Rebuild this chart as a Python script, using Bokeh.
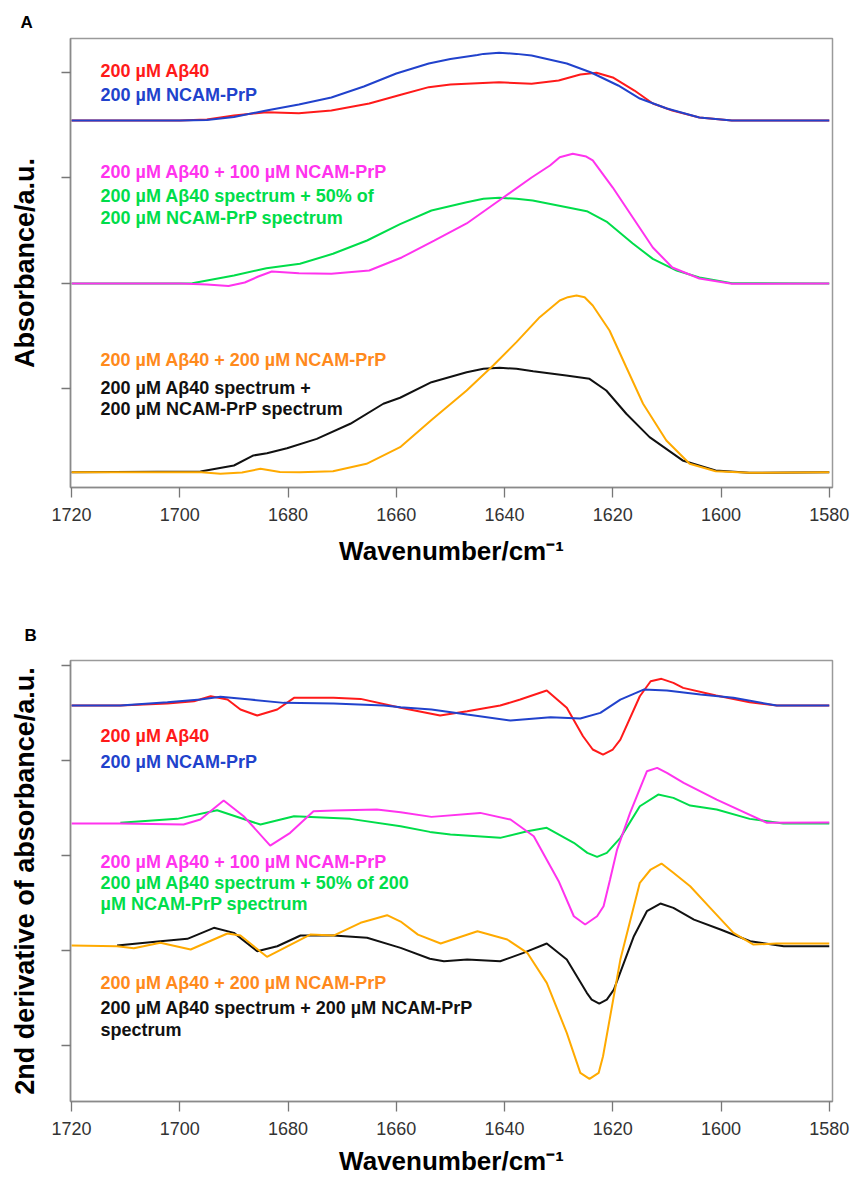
from bokeh.plotting import figure
from bokeh.models import Range1d, FixedTicker, Label
from bokeh.layouts import column
from bokeh.embed import file_html
from bokeh.resources import INLINE

# ---------------- data ----------------
X_TICKS = [1720, 1700, 1680, 1660, 1640, 1620, 1600, 1580]

# Panel A : absorbance (stacked, a.u.)
A_ab40_wn = [1720, 1700, 1695, 1690, 1684, 1678, 1672, 1665, 1659, 1654, 1650, 1641, 1635, 1630, 1626,
             1623, 1620, 1616, 1612.6, 1609, 1604, 1598, 1580]
A_ab40 = [2.544, 2.544, 2.554, 2.592, 2.623, 2.614, 2.639, 2.706, 2.791, 2.861, 2.886, 2.908, 2.893, 2.924,
          2.981, 2.997, 2.953, 2.829, 2.706, 2.639, 2.573, 2.544, 2.544]

A_ncam_wn = [1720, 1700, 1695, 1690, 1684, 1678, 1672, 1666, 1660, 1654, 1650, 1645, 1643.9, 1641, 1637.8,
             1635, 1628.5, 1624, 1619, 1615, 1610, 1604, 1598, 1580]
A_ncam = [2.544, 2.544, 2.549, 2.578, 2.639, 2.696, 2.763, 2.867, 2.991, 3.086, 3.128, 3.166, 3.177, 3.187,
          3.177, 3.161, 3.086, 3.000, 2.877, 2.753, 2.658, 2.573, 2.544, 2.544]

A_mix100_wn = [1720, 1700, 1695, 1691, 1688, 1685.5, 1683, 1678, 1672, 1665, 1659, 1653, 1647, 1641, 1635,
               1631.6, 1629.8, 1627.4, 1624.9, 1623.7, 1620, 1616.3, 1612.6, 1609, 1604, 1598, 1580]
A_mix100 = [0.997, 0.997, 0.987, 0.973, 1.006, 1.063, 1.111, 1.095, 1.089, 1.120, 1.244, 1.405, 1.567, 1.785,
            2.003, 2.117, 2.196, 2.228, 2.202, 2.165, 1.908, 1.623, 1.339, 1.149, 1.044, 0.994, 0.997]

A_sum50_wn = [1720, 1700, 1697.7, 1690, 1684, 1677.8, 1671.7, 1665.4, 1659.3, 1653.5, 1647, 1643.9, 1641,
              1637.8, 1634.8, 1628.5, 1624.8, 1621, 1616.3, 1612.6, 1608.2, 1604, 1598, 1580]
A_sum50 = [0.997, 0.997, 1.000, 1.073, 1.142, 1.184, 1.279, 1.405, 1.560, 1.690, 1.769, 1.801, 1.811, 1.801,
           1.785, 1.721, 1.683, 1.579, 1.377, 1.231, 1.120, 1.054, 1.000, 0.997]

A_sum100_wn = [1720, 1696.2, 1690, 1686.4, 1683.9, 1680.2, 1674.7, 1668.5, 1662.4, 1659.3, 1653.5, 1647,
               1643.9, 1640.9, 1637.8, 1634.7, 1628.6, 1624.3, 1621.2, 1617.5, 1613.2, 1607.1, 1601, 1594.8,
               1580]
A_sum100 = [-0.795, -0.788, -0.731, -0.636, -0.614, -0.567, -0.478, -0.335, -0.145, -0.088, 0.060, 0.155,
            0.187, 0.197, 0.187, 0.164, 0.123, 0.092, -0.019, -0.240, -0.462, -0.683, -0.778, -0.800, -0.795]

A_mix200_wn = [1720, 1696, 1692.5, 1688.5, 1685.1, 1681.5, 1677.8, 1671.7, 1665.5, 1659.3, 1653.5, 1647,
               1642.1, 1637.8, 1633.5, 1629.8, 1628.3, 1626.7, 1625.2, 1623.7, 1620.6, 1617.5, 1614.4, 1610.1,
               1605.8, 1601, 1594.8, 1580]
A_mix200 = [-0.795, -0.795, -0.810, -0.797, -0.762, -0.793, -0.795, -0.785, -0.715, -0.557, -0.300, -0.019,
            0.218, 0.440, 0.677, 0.835, 0.867, 0.883, 0.867, 0.788, 0.551, 0.202, -0.145, -0.494, -0.715,
            -0.785, -0.800, -0.795]

# Panel B : 2nd derivative (stacked, a.u.)
B_ab40_wn = [1720, 1711, 1702.3, 1697.4, 1694.3, 1691.2, 1688.8, 1685.7, 1682, 1678.9, 1671.6, 1666.6, 1659.2,
             1651.9, 1646.9, 1640.8, 1637.1, 1632.2, 1628.5, 1625.5, 1623.7, 1621.8, 1620, 1618.6, 1615, 1613,
             1611, 1608.8, 1607, 1600.9, 1594.7, 1589.7, 1580]
B_ab40 = [3.579, 3.579, 3.600, 3.624, 3.677, 3.642, 3.537, 3.474, 3.537, 3.660, 3.660, 3.649, 3.555, 3.474,
          3.518, 3.579, 3.642, 3.737, 3.555, 3.256, 3.116, 3.063, 3.116, 3.221, 3.677, 3.835, 3.860, 3.818,
          3.765, 3.684, 3.614, 3.579, 3.579]

B_ncam_wn = [1720, 1711, 1702.3, 1696.2, 1692.5, 1687, 1680.8, 1671.6, 1662.3, 1659.2, 1653.5, 1646.9, 1638.9,
             1631.5, 1626, 1622.3, 1618.6, 1614.3, 1610, 1603.8, 1597.7, 1589.7, 1580]
B_ncam = [3.579, 3.579, 3.614, 3.642, 3.671, 3.642, 3.607, 3.600, 3.579, 3.561, 3.537, 3.484, 3.421, 3.456,
          3.442, 3.502, 3.642, 3.747, 3.737, 3.695, 3.660, 3.579, 3.579]

B_mix100_wn = [1720, 1711, 1699.3, 1696.2, 1691.9, 1688.2, 1683.3, 1679.6, 1675.3, 1671.6, 1663.6, 1659.2,
               1653.5, 1644.5, 1638.9, 1634.6, 1630, 1627.2, 1625.1, 1622.9, 1621.7, 1620.5, 1619.2, 1616.8,
               1613.7, 1611.8, 1610, 1606.9, 1600.8, 1591.5, 1580]
B_mix100 = [2.337, 2.337, 2.326, 2.379, 2.579, 2.414, 2.105, 2.239, 2.466, 2.474, 2.484, 2.456, 2.407, 2.449,
            2.379, 2.203, 1.730, 1.361, 1.274, 1.361, 1.466, 1.747, 2.063, 2.449, 2.887, 2.923, 2.870, 2.765,
            2.589, 2.344, 2.347]

B_sum50_wn = [1711, 1700.5, 1693.1, 1685.1, 1678.9, 1668.5, 1659.2, 1653.8, 1650, 1640.8, 1635.8, 1632.2,
              1627.2, 1624.7, 1622.9, 1621.1, 1618.6, 1615, 1611.6, 1608.8, 1605.7, 1600.8, 1594.7, 1588.5, 1580]
B_sum50 = [2.344, 2.386, 2.477, 2.326, 2.414, 2.386, 2.308, 2.249, 2.221, 2.186, 2.256, 2.292, 2.134, 2.028,
           1.986, 2.028, 2.186, 2.519, 2.642, 2.607, 2.526, 2.484, 2.386, 2.337, 2.337]

B_sum100_wn = [1711.6, 1703.6, 1698.6, 1693.7, 1690, 1685.7, 1682, 1677.7, 1671.6, 1665.4, 1659.2, 1653.8,
               1651.2, 1646.9, 1640.8, 1636.5, 1632.2, 1628.5, 1624.8, 1623.9, 1622.5, 1621.1, 1619.8, 1616.1,
               1613.7, 1611.2, 1608.8, 1605, 1600.1, 1594.6, 1588.4, 1580]
B_sum100 = [1.053, 1.098, 1.123, 1.239, 1.186, 0.993, 1.045, 1.158, 1.158, 1.134, 1.028, 0.913, 0.887, 0.905,
            0.887, 0.976, 1.074, 0.905, 0.555, 0.484, 0.442, 0.484, 0.589, 1.151, 1.414, 1.495, 1.449, 1.326,
            1.221, 1.098, 1.045, 1.045]

B_mix200_wn = [1720, 1711.6, 1708.5, 1703.6, 1698, 1691.2, 1688.8, 1683.9, 1675.9, 1671.6, 1666.6, 1661.7,
               1659.2, 1656, 1651.8, 1645, 1639.5, 1635.8, 1632.2, 1628.5, 1626, 1624.3, 1622.6, 1621.8, 1618.6,
               1615, 1613, 1611, 1608.8, 1605.7, 1602, 1597.7, 1594, 1589.7, 1580]
B_mix200 = [1.053, 1.045, 1.024, 1.081, 1.011, 1.179, 1.158, 0.934, 1.168, 1.158, 1.292, 1.372, 1.305, 1.168,
            1.074, 1.203, 1.116, 0.976, 0.660, 0.134, -0.287, -0.351, -0.287, -0.113, 0.905, 1.713, 1.853,
            1.916, 1.818, 1.677, 1.449, 1.186, 1.063, 1.074, 1.074]

# ---------------- style ----------------
RED = "#FF1A1A"
BLUE = "#2142CC"
MAGENTA = "#FF33EE"
GREEN = "#00DD4A"
ORANGE_LINE = "#FFAA00"
ORANGE_TEXT = "#FF8A1C"
BLACK = "#111111"
FONT = "Liberation Sans"


def make_panel(height, top, bottom, y_range, y_ticks, y_title, letter, letter_offset, letter_standoff,
               xlabel_standoff):
    p = figure(width=852, height=height, output_backend="svg", toolbar_location=None,
               x_range=Range1d(1720.2, 1579.4), y_range=Range1d(*y_range),
               min_border_left=70, min_border_right=20, min_border_top=top, min_border_bottom=bottom,
               background_fill_color="white", border_fill_color="white", title=letter)
    p.title.align = "left"
    p.title.offset = letter_offset
    p.title.standoff = letter_standoff
    p.title.text_font = FONT
    p.title.text_font_style = "bold"
    p.title.text_font_size = "17px"
    p.title.text_color = "black"

    p.xgrid.visible = False
    p.ygrid.visible = False
    p.outline_line_color = "#9a9a9a"
    p.outline_line_width = 1.5

    xa = p.xaxis[0]
    xa.ticker = FixedTicker(ticks=X_TICKS)
    xa.axis_line_color = "#8a8a8a"
    xa.axis_line_width = 1.5
    xa.major_tick_line_color = "#777777"
    xa.major_tick_line_width = 1.3
    xa.major_tick_out = 10
    xa.major_tick_in = 0
    xa.minor_tick_line_color = None
    xa.major_label_text_font = FONT
    xa.major_label_text_font_size = "18px"
    xa.major_label_text_color = "#333333"
    xa.major_label_standoff = 10
    xa.axis_label = "Wavenumber/cm⁻¹"
    xa.axis_label_text_font = FONT
    xa.axis_label_text_font_style = "bold"
    xa.axis_label_text_font_size = "26px"
    xa.axis_label_text_color = "black"
    xa.axis_label_standoff = xlabel_standoff

    ya = p.yaxis[0]
    ya.ticker = FixedTicker(ticks=y_ticks)
    ya.major_label_overrides = {t: "" for t in y_ticks}
    ya.major_label_standoff = 0
    ya.axis_line_color = "#8a8a8a"
    ya.axis_line_width = 1.5
    ya.major_tick_line_color = "#777777"
    ya.major_tick_line_width = 1.3
    ya.major_tick_out = 9
    ya.major_tick_in = 0
    ya.minor_tick_line_color = None
    ya.axis_label = y_title
    ya.axis_label_text_font = FONT
    ya.axis_label_text_font_style = "bold"
    ya.axis_label_text_font_size = "27px"
    ya.axis_label_text_color = "black"
    ya.axis_label_standoff = 22
    return p


def add_text(p, x, y, txt, color):
    p.add_layout(Label(x=x, y=y, text=txt, text_font=FONT, text_font_style="bold",
                       text_font_size="18px", text_align="left", text_baseline="middle",
                       text_color=color))


# ---------------- panel A ----------------
pA = make_panel(590, 38, 103, (-0.940, 3.323), [0, 1, 2, 3], "Absorbance/a.u.", "A", -50, 13, 12)
pA.line(A_ab40_wn, A_ab40, line_color=RED, line_width=2)
pA.line(A_ncam_wn, A_ncam, line_color=BLUE, line_width=2)
pA.line(A_sum50_wn, A_sum50, line_color=GREEN, line_width=2)
pA.line(A_mix100_wn, A_mix100, line_color=MAGENTA, line_width=2)
pA.line(A_sum100_wn, A_sum100, line_color=BLACK, line_width=2)
pA.line(A_mix200_wn, A_mix200, line_color=ORANGE_LINE, line_width=2)

TX = 1714.65
add_text(pA, TX, 3.010, "200 µM Aβ40", RED)
add_text(pA, TX, 2.791, "200 µM NCAM-PrP", BLUE)
add_text(pA, TX, 2.060, "200 µM Aβ40 + 100 µM NCAM-PrP", MAGENTA)
add_text(pA, TX, 1.832, "200 µM Aβ40 spectrum + 50% of", GREEN)
add_text(pA, TX, 1.623, "200 µM NCAM-PrP spectrum", GREEN)
add_text(pA, TX, 0.266, "200 µM Aβ40 + 200 µM NCAM-PrP", ORANGE_TEXT)
add_text(pA, TX, 0.009, "200 µM Aβ40 spectrum +", BLACK)
add_text(pA, TX, -0.190, "200 µM NCAM-PrP spectrum", BLACK)

# ---------------- panel B ----------------
pB = make_panel(592, 70, 81, (-0.589, 4.053), [0, 1, 2, 3, 4], "2nd derivative of absorbance/a.u.",
                "B", -46, 32, 8)
pB.line(B_ab40_wn, B_ab40, line_color=RED, line_width=2)
pB.line(B_ncam_wn, B_ncam, line_color=BLUE, line_width=2)
pB.line(B_sum50_wn, B_sum50, line_color=GREEN, line_width=2)
pB.line(B_mix100_wn, B_mix100, line_color=MAGENTA, line_width=2)
pB.line(B_sum100_wn, B_sum100, line_color=BLACK, line_width=2)
pB.line(B_mix200_wn, B_mix200, line_color=ORANGE_LINE, line_width=2)

add_text(pB, TX, 3.263, "200 µM Aβ40", RED)
add_text(pB, TX, 2.989, "200 µM NCAM-PrP", BLUE)
add_text(pB, TX, 1.937, "200 µM Aβ40 + 100 µM NCAM-PrP", MAGENTA)
add_text(pB, TX, 1.716, "200 µM Aβ40 spectrum + 50% of 200", GREEN)
add_text(pB, TX, 1.495, "µM NCAM-PrP spectrum", GREEN)
add_text(pB, TX, 0.663, "200 µM Aβ40 + 200 µM NCAM-PrP", ORANGE_TEXT)
add_text(pB, TX, 0.400, "200 µM Aβ40 spectrum + 200 µM NCAM-PrP", BLACK)
add_text(pB, TX, 0.168, "spectrum", BLACK)

layout = column(pA, pB, spacing=0)
open("out.html", "w").write(file_html(layout, INLINE))
